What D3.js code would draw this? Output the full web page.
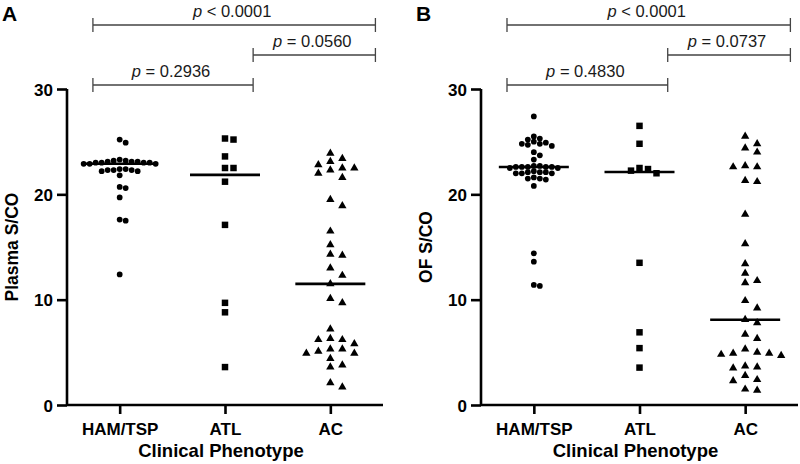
<!DOCTYPE html>
<html>
<head>
<meta charset="utf-8">
<script src="https://cdn.jsdelivr.net/npm/d3@7"></script>
<style>
  html, body { margin: 0; padding: 0; background: #fff; }
  svg { display: block; }
  text { font-family: "Liberation Sans", Arial, Helvetica, sans-serif; }
</style>
</head>
<body>
<svg id="chart" width="800" height="464"></svg>
<script>
// ---------------- DATA ----------------
const categories = ["HAM/TSP", "ATL", "AC"];
const yTicks = [0, 10, 20, 30];

// Panel A: Plasma S/CO
const plasmaHAM = [25.2, 24.9,
  23.3, 23.2, 23.2, 23.1, 23.1, 23.1, 23.0, 23.0, 23.0, 23.0, 22.9, 22.9, 22.9,
  22.4, 22.4, 22.3, 22.3, 22.3, 22.2, 22.2,
  21.8, 20.7, 20.6, 19.7, 17.6, 17.5, 12.4];
const plasmaATL = [25.3, 25.2, 23.6, 22.5, 22.5, 21.2, 17.1, 9.7, 8.8, 3.6];
const plasmaAC = [23.9, 23.4, 23.1, 22.8, 22.5, 22.5, 22.3, 22.0, 21.6, 19.5, 18.9,
  16.5, 15.2, 14.3, 14.2, 13.0, 12.3, 11.5, 10.1, 9.7, 7.2, 6.3, 6.2, 6.2, 5.8,
  5.3, 5.3, 5.1, 4.9, 4.9, 4.4, 3.8, 3.6, 2.1, 1.7];

// Panel B: OF S/CO
const ofHAM = [27.4, 25.5, 25.3, 25.2, 25.0, 24.9, 24.8, 24.8, 24.7, 24.6, 24.0, 23.7, 23.3,
  22.7, 22.7, 22.6, 22.6, 22.6, 22.6, 22.6, 22.5, 22.5,
  22.2, 22.1, 22.1, 22.1, 22.0, 22.0, 22.0,
  21.6, 21.5, 21.5, 21.4, 20.8, 14.4, 13.6, 11.4, 11.3];
const ofATL = [26.5, 24.8, 22.5, 22.4, 22.25, 22.0, 13.5, 6.9, 5.4, 3.55];
const ofAC = [25.5, 24.8, 24.4, 24.0, 22.7, 22.6, 22.6, 21.3, 21.2, 18.1, 15.3, 13.4,
  12.5, 11.8, 11.6, 9.9, 9.2, 8.1, 7.8, 6.7, 6.3, 5.3, 5.0, 4.9, 4.9, 4.8, 4.7,
  3.7, 3.6, 3.5, 2.8, 2.4, 2.3, 1.5, 1.4];

// comparisons: [from category, to category, p text]
const compA = [["HAM/TSP", "AC", "< 0.0001"], ["ATL", "AC", "= 0.0560"], ["HAM/TSP", "ATL", "= 0.2936"]];
const compB = [["HAM/TSP", "AC", "< 0.0001"], ["ATL", "AC", "= 0.0737"], ["HAM/TSP", "ATL", "= 0.4830"]];

const panels = [
  { letter: "A", yLabel: "Plasma S/CO", groups: [plasmaHAM, plasmaATL, plasmaAC], comps: compA, left: 67, width: 316, lx: 2, ylx: 18 },
  { letter: "B", yLabel: "OF S/CO", groups: [ofHAM, ofATL, ofAC], comps: compB, left: 481, width: 317, lx: 416, ylx: 432 }
];

// ---------------- DRAW ----------------
const svg = d3.select("#chart");
const plotTop = 89, plotH = 316;
const symbols = [d3.symbolCircle, d3.symbolSquare, d3.symbolTriangle];
const symSize = [26, 42, 30];
const steps = [6, 8.5, 12];
const rowHs = [5, 7, 7.5];

function swarm(values, y, step, rowH) {
  const pts = values.map(v => ({ v, y: y(v) })).sort((a, b) => a.y - b.y);
  const placed = [];
  for (const p of pts) {
    for (let k = 0; k < 40; k++) {
      const off = k === 0 ? 0 : (k % 2 ? Math.ceil(k / 2) : -k / 2);
      const x = off * step;
      if (!placed.some(q => Math.abs(q.x - x) < step * 0.95 && Math.abs(q.y - p.y) < rowH)) {
        p.x = x; placed.push(p); break;
      }
    }
  }
  return placed;
}

panels.forEach(P => {
  const g = svg.append("g").attr("transform", `translate(${P.left},${plotTop})`);
  const x = d3.scalePoint().domain(categories).range([0, P.width]).padding(0.5);
  const y = d3.scaleLinear().domain([0, 30]).range([plotH, 0]);

  // y axis
  const yAxis = g.append("g").call(d3.axisLeft(y).tickValues(yTicks).tickSize(10).tickPadding(4).tickFormat(d3.format("d")));
  yAxis.select(".domain").attr("stroke", "#000").attr("stroke-width", 2.6).attr("d", `M0,${plotH}V0`);
  yAxis.selectAll(".tick line").attr("stroke", "#000").attr("stroke-width", 2.6);
  yAxis.selectAll(".tick text").attr("fill", "#000").attr("font-size", 17).attr("font-weight", "bold")
    .attr("font-family", '"Liberation Sans", Arial, sans-serif').attr("dy", "0.36em");

  // x axis
  const xAxis = g.append("g").attr("transform", `translate(0,${plotH})`)
    .call(d3.axisBottom(x).tickSize(9).tickPadding(9));
  xAxis.select(".domain").attr("stroke", "#000").attr("stroke-width", 2.6).attr("d", `M0,0H${P.width}`);
  xAxis.selectAll(".tick line").attr("stroke", "#000").attr("stroke-width", 2.6);
  xAxis.selectAll(".tick text").attr("fill", "#000").attr("font-size", 17).attr("font-weight", "bold")
    .attr("font-family", '"Liberation Sans", Arial, sans-serif').attr("dy", "0.71em");

  // axis titles
  g.append("text").attr("x", P.width / 2 - 4).attr("y", plotH + 52).attr("text-anchor", "middle")
    .attr("font-size", 18.5).attr("font-weight", "bold").text("Clinical Phenotype");
  svg.append("text").attr("transform", `translate(${P.ylx},${plotTop + plotH / 2}) rotate(-90)`)
    .attr("text-anchor", "middle").attr("font-size", 17.5).attr("font-weight", "bold").text(P.yLabel);

  // panel letter
  svg.append("text").attr("x", P.lx).attr("y", 21).attr("font-size", 21).attr("font-weight", "bold").text(P.letter);

  // points
  P.groups.forEach((vals, gi) => {
    const cx = x(categories[gi]);
    const pts = swarm(vals, y, steps[gi], rowHs[gi]);
    g.append("g").selectAll("path").data(pts).join("path")
      .attr("transform", d => `translate(${cx + d.x},${d.y})`)
      .attr("d", d3.symbol().type(symbols[gi]).size(symSize[gi]))
      .attr("fill", "#000");
    const med = d3.median(vals);
    g.append("line").attr("x1", cx - 35).attr("x2", cx + 35)
      .attr("y1", y(med)).attr("y2", y(med)).attr("stroke", "#000").attr("stroke-width", 2.6);
  });

  // comparison brackets
  const bx = { "HAM/TSP": 0.082 * P.width, "ATL": 0.589 * P.width, "AC": 0.976 * P.width };
  const levels = [-64, -34, -4];
  P.comps.forEach((c, i) => {
    const x1 = bx[c[0]], x2 = bx[c[1]], yy = levels[i];
    g.append("path").attr("d", `M${x1},${yy - 7}V${yy + 7}M${x1},${yy}H${x2}M${x2},${yy - 7}V${yy + 7}`)
      .attr("stroke", "#444").attr("stroke-width", 1.3).attr("fill", "none");
    const t = g.append("text").attr("x", (x1 + x2) / 2 - 2).attr("y", yy - 8).attr("text-anchor", "middle")
      .attr("font-size", 16.5).attr("fill", "#1a1a1a");
    t.append("tspan").attr("font-style", "italic").text("p");
    t.append("tspan").text(" " + c[2]);
  });
});
</script>
</body>
</html>
